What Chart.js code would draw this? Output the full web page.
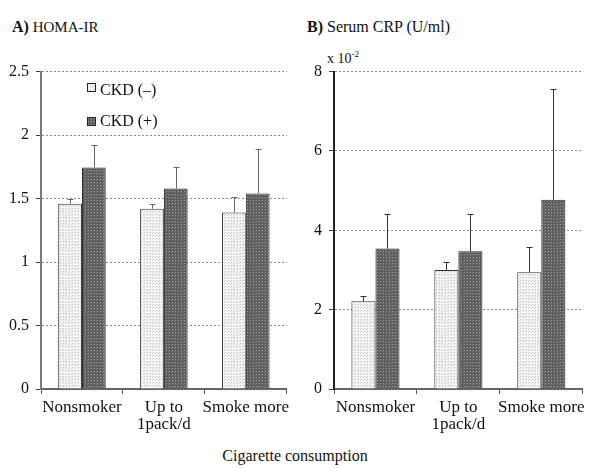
<!DOCTYPE html>
<html>
<head>
<meta charset="utf-8">
<script src="https://cdn.jsdelivr.net/npm/chart.js@4.4.0/dist/chart.umd.min.js"></script>
<style>
body { margin: 0; width: 590px; height: 468px; position: relative; background: #fff; font-family: "Liberation Serif", serif; color: #111; overflow: hidden; }
.txt { position: absolute; font-size: 15px; line-height: 15px; white-space: nowrap; }
.txt b { font-size: 16px; }
canvas { position: absolute; }
.sw { position: absolute; width: 9px; height: 9px; }
</style>
</head>
<body>
<div class="txt" style="left:12px; top:19px;"><b>A)</b> HOMA-IR</div>
<div class="txt" style="left:307px; top:19px; font-size:16px;"><b>B)</b> Serum CRP (U/ml)</div>
<div class="txt" style="left:327px; top:47px; font-size:14px;">x 10<sup style="font-size:9px;">-2</sup></div>

<canvas id="homaChart" width="295" height="390" style="left:0; top:55px;"></canvas>
<canvas id="crpChart" width="295" height="390" style="left:295px; top:55px;"></canvas>

<canvas class="sw" id="swNeg" width="9" height="9" style="left:87px; top:83px;"></canvas>
<div class="txt" style="left:100px; top:82px; font-size:16px;">CKD (–)</div>
<canvas class="sw" id="swPos" width="9" height="9" style="left:87px; top:117px;"></canvas>
<div class="txt" style="left:100px; top:113px; font-size:16px;">CKD (+)</div>

<div class="txt" style="left:0; width:590px; text-align:center; top:448px; font-size:16px;">Cigarette consumption</div>

<script>
// categorias y valores
const categories = ["Nonsmoker", ["Up to", "1pack/d"], "Smoke more"];
const seriesNames = ["CKD (–)", "CKD (+)"];

// HOMA-IR
const homaNeg = [1.46, 1.42, 1.39];
const homaNegErr = [0.04, 0.04, 0.12];
const homaPos = [1.745, 1.58, 1.54];
const homaPosErr = [0.18, 0.17, 0.35];
const homaTicks = [0, 0.5, 1, 1.5, 2, 2.5];

// Serum CRP (x 10^-2)
const crpNeg = [2.21, 3.0, 2.94];
const crpNegErr = [0.13, 0.19, 0.65];
const crpPos = [3.54, 3.47, 4.77];
const crpPosErr = [0.88, 0.93, 2.79];
const crpTicks = [0, 2, 4, 6, 8];

Chart.defaults.font.family = "'Liberation Serif', 'Times New Roman', serif";
Chart.defaults.color = "#111";

// patrones de relleno (punteado claro / cuadriculado oscuro)
function makePattern(kind) {
    const tile = document.createElement("canvas");
    tile.width = 3; tile.height = 3;
    const c = tile.getContext("2d");
    if (kind === "light") {
        c.fillStyle = "#f6f6f6"; c.fillRect(0, 0, 3, 3);
        c.fillStyle = "#b8b8b8"; c.fillRect(0, 0, 1, 1);
        c.fillStyle = "#d4d4d4"; c.fillRect(2, 1, 1, 1);
    } else {
        c.fillStyle = "#5c5c5c"; c.fillRect(0, 0, 3, 3);
        c.fillStyle = "#a6a6a6"; c.fillRect(1, 1, 1, 1);
        c.fillStyle = "#7a7a7a"; c.fillRect(0, 2, 1, 1);
    }
    return document.createElement("canvas").getContext("2d").createPattern(tile, "repeat");
}
const lightFill = makePattern("light");
const darkFill = makePattern("dark");

function paintSwatch(id, fill) {
    const c = document.getElementById(id).getContext("2d");
    c.fillStyle = fill; c.fillRect(0, 0, 9, 9);
    c.strokeStyle = "#222"; c.lineWidth = 1; c.strokeRect(0.5, 0.5, 8, 8);
}
paintSwatch("swNeg", lightFill);
paintSwatch("swPos", darkFill);

// barras de error (solo hacia arriba)
const errorBars = {
    id: "errorBars",
    afterDatasetsDraw(chart, args, opts) {
        const ctx = chart.ctx;
        const y = chart.scales.y;
        chart.data.datasets.forEach((ds, i) => {
            chart.getDatasetMeta(i).data.forEach((bar, j) => {
                const x = Math.round(bar.x) + 0.5;
                const top = Math.round(y.getPixelForValue(ds.data[j] + ds.errors[j])) + 0.5;
                ctx.save();
                ctx.strokeStyle = opts.color;
                ctx.lineWidth = 1;
                ctx.beginPath();
                ctx.moveTo(x, bar.y);
                ctx.lineTo(x, top);
                ctx.moveTo(x - 3, top);
                ctx.lineTo(x + 3, top);
                ctx.stroke();
                ctx.restore();
            });
        });
    }
};

function buildChart(id, neg, negErr, pos, posErr, ticks, yWidth, padRight, axisColor, errColor) {
    return new Chart(document.getElementById(id), {
        type: "bar",
        data: {
            labels: categories,
            datasets: [
                { label: seriesNames[0], data: neg, errors: negErr, backgroundColor: lightFill, borderColor: "#333", borderWidth: 1 },
                { label: seriesNames[1], data: pos, errors: posErr, backgroundColor: darkFill, borderColor: "#222", borderWidth: 1 }
            ]
        },
        options: {
            responsive: false,
            animation: false,
            layout: { padding: { top: 16, right: padRight, left: 0, bottom: 0 } },
            datasets: { bar: { categoryPercentage: 0.58, barPercentage: 1 } },
            plugins: {
                legend: { display: false },
                tooltip: { enabled: false },
                errorBars: { color: errColor }
            },
            scales: {
                x: {
                    grid: { drawOnChartArea: false, drawTicks: true, tickLength: 5, tickColor: "#555", offset: true },
                    border: { color: "#666", width: 2 },
                    ticks: { font: { size: 17, lineHeight: 1.0 }, padding: 5, maxRotation: 0, autoSkip: false },
                    afterFit: s => { s.height = 56; }
                },
                y: {
                    min: ticks[0],
                    max: ticks[ticks.length - 1],
                    afterBuildTicks: s => { s.ticks = ticks.map(v => ({ value: v })); },
                    grid: {
                        color: c => c.tick && c.tick.value === 0 ? "rgba(0,0,0,0)" : "#8c8c8c",
                        lineWidth: 1,
                        tickLength: 5,
                        tickColor: "#444"
                    },
                    border: { color: axisColor, width: 2, dash: [2, 2] },
                    ticks: { font: { size: 16 }, padding: 7, callback: v => String(v) },
                    afterFit: s => { s.width = yWidth; }
                }
            }
        },
        plugins: [errorBars]
    });
}

buildChart("homaChart", homaNeg, homaNegErr, homaPos, homaPosErr, homaTicks, 41, 6, "#7a7a7a", "#666");
buildChart("crpChart", crpNeg, crpNegErr, crpPos, crpPosErr, crpTicks, 39, 3, "#222", "#333");
</script>
</body>
</html>
